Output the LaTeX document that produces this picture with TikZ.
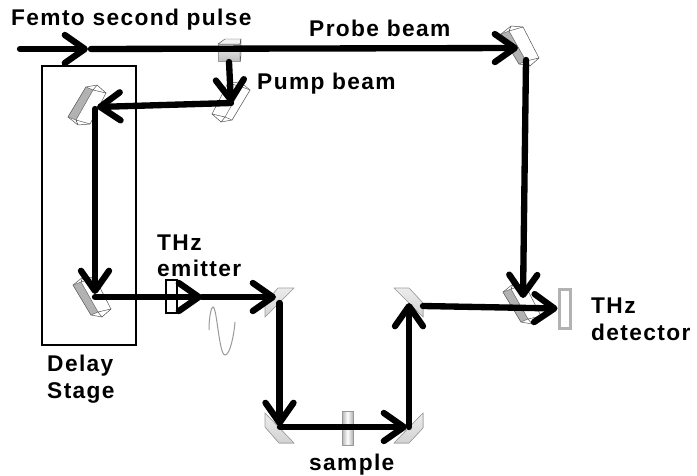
\documentclass[tikz,border=0pt]{standalone}
\usepackage{fontspec}
\newfontfamily\labelfont[LetterSpace=6]{Liberation Sans}
\usetikzlibrary{arrows.meta,positioning,calc}

\tikzset{
  beam/.style={line width=0.19cm, line cap=round, -{Straight Barb[round,length=0.6cm,width=0.84cm]}},
  label/.style={font=\labelfont\bfseries\fontsize{19.4}{19.4}\selectfont, inner sep=0pt, anchor=west},
  flatmirror/.style={draw=gray!75, line width=0.5pt, top color=gray!15, bottom color=gray!35},
  pics/prism/.style={code={
    \draw[fill=white, draw=black!70, line width=0.4pt] (-19,12) -- (-1,-18) -- (10,-20) -- (19,-12) -- (3,19) -- (-9,20) -- cycle;
    \draw[fill=#1, draw=black!60, line width=0.4pt] (-19,12) -- (-1,-18) -- (6,-15) -- (-11,15) -- cycle;
    \draw[draw=black!70, line width=0.4pt] (6,-15) -- (10,-20) (-11,15) -- (-9,20) (6,-15) -- (19,-12) (-11,15) -- (3,19);
  }},
  pics/prism/.default=gray!60
}

\begin{document}
\begin{tikzpicture}[x=0.03cm, y=-0.03cm]
\useasboundingbox (0,0) rectangle (697,476);

% Delay stage box
\node[draw, line width=0.06cm, minimum width=2.8cm, minimum height=8.34cm, inner sep=0pt] (stage) at (89,205.5) {};

% Prism mirrors
\pic at (87,105) {prism};
\pic[rotate=180] at (231,102) {prism=white};
\pic[yscale=-1] at (92,297) {prism};
\pic[yscale=-1] at (520,46) {prism};
\pic[yscale=-1] at (522,304) {prism};

% Flat mirrors
\filldraw[flatmirror] (278,288) -- (294,288) -- (265,317) -- (265,303) -- cycle;
\filldraw[flatmirror] (265,413) -- (294,443) -- (279,443) -- (265,427) -- cycle;
\filldraw[flatmirror] (423,413) -- (423,428) -- (409,443) -- (394,443) -- cycle;
\filldraw[flatmirror] (394,288) -- (409,288) -- (423,303) -- (423,317) -- cycle;

% Beam splitter, emitter, sample, detector
\node[draw=gray!80, top color=gray!10, bottom color=gray!50, minimum width=0.66cm, minimum height=0.51cm, inner sep=0pt, line width=0.4pt] (splitter) at (229,52.5) {};
\draw[draw=black!70, fill=gray!10, line width=0.4pt] (218,44) -- (225,39) -- (241,39) -- (240,44) -- cycle;
\draw[draw=black!70, fill=gray!40, line width=0.4pt] (240,44) -- (241,39) -- (241,56) -- (240,61) -- cycle;
\node[draw, line width=0.05cm, fill=white, minimum width=0.33cm, minimum height=0.99cm, inner sep=0pt] (emitter) at (171.5,296.5) {};
\node[draw=gray!80, line width=0.03cm, left color=gray!60, right color=gray!60, middle color=white, minimum width=0.33cm, minimum height=1.02cm, inner sep=0pt] (samplebox) at (347.5,428) {};
\node[draw=gray!60, line width=0.09cm, fill=white, minimum width=0.33cm, minimum height=1.17cm, inner sep=0pt] (detector) at (564.5,308.5) {};

% Beam path points
\coordinate (start) at (20,49);
\coordinate (kink) at (88,49);
\coordinate (after) at (91,49);
\coordinate (probeM) at (518,48);
\coordinate (probeOut) at (526,60);
\coordinate (probeIn) at (523,298);
\coordinate (pumpOut) at (229,62);
\coordinate (pumpM) at (231,103);
\coordinate (delayA) at (97,107);
\coordinate (delayAout) at (95,109);
\coordinate (delayB) at (95,294);
\coordinate (delayBout) at (95,297);
\coordinate (thzMid) at (202,297);
\coordinate (m1) at (276,297);
\coordinate (m1out) at (279.5,303);
\coordinate (m2) at (279.5,426);
\coordinate (m2out) at (280,427);
\coordinate (m3) at (407,427);
\coordinate (m3out) at (409,427);
\coordinate (m4) at (409,303);
\coordinate (m4out) at (423,306);

% Beams
\draw[beam] (start) -- (kink);
\draw[beam] (after) -- (probeM);
\draw[beam] (probeOut) -- (probeIn);
\draw[beam] (pumpOut) -- (pumpM);
\draw[beam] (pumpM) -- (delayA);
\draw[beam] (delayAout) -- (delayB);
\draw[beam] (delayBout) -- (thzMid);
\draw[beam] (thzMid) -- (m1);
\draw[beam] (m1out) -- (m2);
\draw[beam] (m2out) -- (m3);
\draw[beam] (m3out) -- (m4);
\draw[beam] (m4out) -- (detector.west);

% THz pulse
\draw[gray!80, line width=0.03cm] (209,330) .. controls (209,318) and (211,307) .. (213,307) .. controls (217,307) and (219,355) .. (225,355) .. controls (230,355) and (234,335) .. (235,322);

% Labels
\node[label] (femto) at (11,20) {Femto second pulse};
\node[label] (probe) at (309,28) {Probe beam};
\node[label] (pump) at (257,84) {Pump beam};
\node[label] (thz1) at (157,243) {THz};
\node[label] (thz2) at (157,268) {emitter};
\node[label] (delay) at (47,366) {Delay};
\node[label] (stagetxt) at (47,393) {Stage};
\node[label] (sample) at (309,465) {sample};
\node[label] (thz3) at (591,306) {THz};
\node[label] (thz4) at (591,332) {detector};
\end{tikzpicture}
\end{document}
